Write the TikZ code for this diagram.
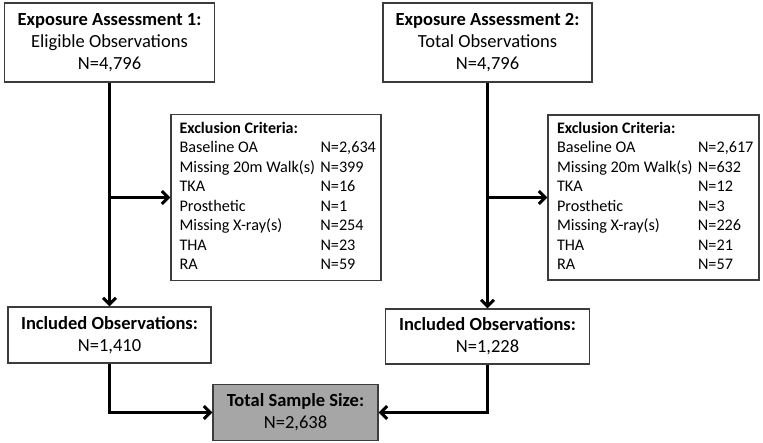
\documentclass[tikz,border=0pt]{standalone}
\usepackage{fontspec}
\setmainfont{Carlito}
\usetikzlibrary{arrows.meta}
\definecolor{totfill}{RGB}{166,166,166}
\definecolor{boxline}{RGB}{60,60,60}
\newcommand{\bigfont}{\fontsize{18.5}{22}\selectfont}
\newcommand{\exclhead}{\multicolumn{2}{@{}l@{}}{\fontsize{16}{19.5}\selectfont\bfseries Exclusion Criteria:}}
\begin{document}
\begin{tikzpicture}[x=1pt,y=-1pt,
  box/.style={draw=boxline, line width=1.1pt, fill=white, inner sep=0pt, align=center, font=\bigfont},
  exbox/.style={draw=boxline, line width=1.1pt, fill=white, inner sep=0pt, align=left, font=\fontsize{16.2}{19.5}\selectfont},
  conn/.style={line width=3pt, -{Straight Barb[length=6.5pt,width=13pt]}}
]
\path[use as bounding box, fill=white] (0,0) rectangle (763,443);

\node[box, minimum width=210pt, minimum height=79pt] (ea1) at (109.5,42.5)
  {\textbf{Exposure Assessment 1:}\\Eligible Observations\\N=4,796};
\node[box, minimum width=209pt, minimum height=79pt] (ea2) at (487.5,42.5)
  {\textbf{Exposure Assessment 2:}\\Total Observations\\N=4,796};

\node[exbox, minimum width=210pt, minimum height=166pt] (ex1) at (276,197.5)
  {\begin{tabular}{@{}p{141pt}@{}p{52pt}@{}}
   \exclhead\\
   Baseline OA & N=2,634\\
   Missing 20m Walk(s) & N=399\\
   TKA & N=16\\
   Prosthetic & N=1\\
   Missing X-ray(s) & N=254\\
   THA & N=23\\
   RA & N=59
   \end{tabular}};
\node[exbox, minimum width=211pt, minimum height=165pt] (ex2) at (653.5,197.5)
  {\begin{tabular}{@{}p{141pt}@{}p{52pt}@{}}
   \exclhead\\
   Baseline OA & N=2,617\\
   Missing 20m Walk(s) & N=632\\
   TKA & N=12\\
   Prosthetic & N=3\\
   Missing X-ray(s) & N=226\\
   THA & N=21\\
   RA & N=57
   \end{tabular}};

\node[box, minimum width=203pt, minimum height=56pt] (in1) at (109.5,335)
  {\textbf{Included Observations:}\\N=1,410};
\node[box, minimum width=204pt, minimum height=55pt] (in2) at (487.5,336.5)
  {\textbf{Included Observations:}\\N=1,228};

\node[box, fill=totfill, minimum width=165pt, minimum height=56pt] (tot) at (295.5,412.5)
  {\textbf{Total Sample Size:}\\N=2,638};

\draw[conn] (ea1.south) -- (in1.north);
\draw[conn] (ea1.south |- ex1.west) -- (ex1.west);
\draw[conn] (ea2.south) -- (in2.north);
\draw[conn] (ea2.south |- ex2.west) -- (ex2.west);
\draw[conn] (in1.south) |- (tot.west);
\draw[conn] (in2.south) |- (tot.east);
\end{tikzpicture}
\end{document}
